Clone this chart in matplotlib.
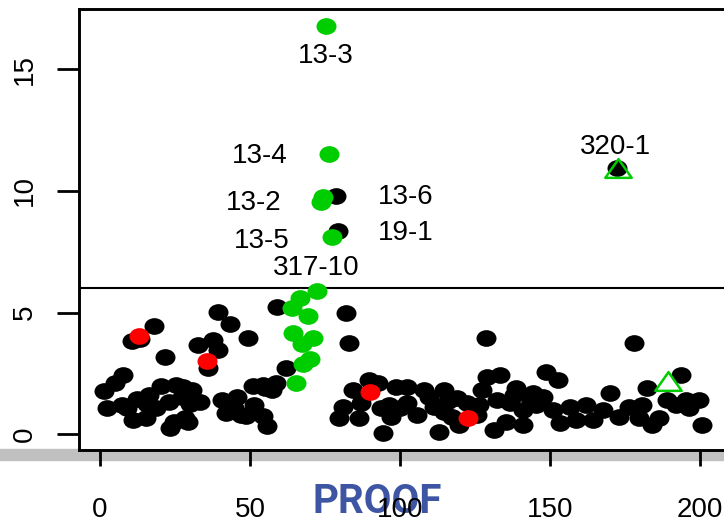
"""Scatter of sample values with labelled outliers (R-style base plot)."""

import matplotlib

matplotlib.use("Agg")
import matplotlib.pyplot as plt
from matplotlib.path import Path
from matplotlib.patches import Rectangle
from matplotlib.transforms import Affine2D

# ---- data ----------------------------------------------------------------
black_x = [
    1.2, 2.3, 5.1, 7.8, 7.4, 8.9, 11.0, 12.3, 15.6, 15.4, 16.3, 18.8, 20.4,
    23.0, 24.5, 23.3, 25.2, 27.3, 27.5, 28.3, 29.4, 30.6, 30.0, 33.3,
    18.0, 10.6, 13.3, 21.5, 32.8, 37.8, 39.2, 36.1, 39.4, 43.3, 49.4, 58.9,
    40.6, 42.0, 44.5, 45.8, 46.9, 48.5, 51.1, 51.2, 54.4, 54.4, 55.6, 55.0,
    57.2, 58.6, 62.0,
    82.0, 83.1, 84.2, 89.8, 92.6, 80.9, 79.8, 86.4, 87.0, 93.7, 96.4, 97.0,
    94.2, 98.7,
    102.3, 107.9, 114.6, 119.0, 100.1, 105.7, 111.2, 114.6, 112.9, 119.6,
    127.3, 129.0, 133.4, 126.2, 132.3, 131.2, 102.3, 128.8, 117.3, 125.7,
    122.3, 109.5, 116.0,
    148.8, 152.7, 138.8, 144.3, 147.7, 136.6, 141.0, 145.4, 135.4, 141.0,
    151.0, 153.2, 156.6, 158.8, 162.1, 164.3, 167.7, 169.9, 138.0, 143.5,
    178.0, 193.6, 182.4, 176.3, 173.0, 180.8, 179.7, 186.3, 184.1, 189.1,
    195.2, 199.7, 196.3, 200.8, 192.0,
    78.7, 79.4, 172.3,
]
black_y = [
    1.77, 1.08, 2.10, 2.45, 1.20, 1.09, 0.60, 1.45, 1.23, 0.67, 1.62, 1.08, 2.00,
    1.34, 0.52, 0.27, 2.02, 1.55, 1.95, 0.68, 0.50, 1.82, 1.23, 1.34,
    4.46, 3.83, 3.90, 3.18, 3.65, 3.88, 3.47, 2.72, 5.02, 4.54, 3.95, 5.22,
    1.39, 0.88, 1.10, 1.52, 0.81, 0.75, 2.00, 1.22, 2.02, 0.75, 0.36, 1.90,
    1.82, 2.10, 2.72,
    4.99, 3.76, 1.82, 2.23, 2.09, 1.13, 0.66, 0.66, 1.27, 1.07, 1.20, 0.72,
    0.04, 1.95,
    1.95, 1.82, 1.82, 1.48, 1.07, 0.79, 1.13, 0.93, 0.11, 0.38,
    1.82, 2.37, 2.44, 1.20, 1.41, 0.18, 1.27, 3.94, 0.72, 0.79,
    1.27, 1.55, 1.35,
    2.57, 2.23, 1.89, 1.68, 1.54, 1.27, 1.00, 1.20, 0.52, 0.38,
    1.00, 0.45, 1.13, 0.59, 1.20, 0.59, 1.00, 1.68, 1.60, 1.40,
    3.76, 2.44, 1.89, 1.13, 0.72, 1.20, 0.66, 0.66, 0.38, 1.41,
    1.41, 1.41, 1.07, 0.38, 1.20,
    9.79, 8.36, 10.92,
]

red_x = [13.0, 35.8, 90.1, 122.7]
red_y = [4.04, 3.01, 1.75, 0.68]

green_x = [72.2, 66.7, 63.9, 69.4, 64.4, 71.1, 67.2, 70.0, 67.8, 65.3,
           75.3, 76.3, 73.6, 74.2, 77.2]
green_y = [5.88, 5.61, 5.20, 4.86, 4.17, 3.97, 3.70, 3.08, 2.87, 2.12,
           16.78, 11.51, 9.55, 9.76, 8.09]

triangle_x = [172.6, 189.3]
triangle_y = [10.93, 2.20]

threshold = 6

label_text = ["13-3", "13-4", "13-2", "13-5", "13-6", "19-1", "317-10", "320-1"]
label_px = [75.3, 76.3, 73.6, 77.2, 78.7, 79.4, 72.2, 172.6]
label_py = [16.78, 11.51, 9.55, 8.09, 9.79, 8.36, 5.88, 10.93]
label_offset = [(0, -21.5), (-50, -1.5), (-48, -1), (-50, -2.5), (50, -0.5),
                (48.5, -1.5), (0, 16.5), (-2, 15)]

x_ticks = [0, 50, 100, 150, 200]
y_ticks = [0, 5, 10, 15]

# ---- styling ---------------------------------------------------------------
FONT = ["Liberation Sans", "DejaVu Sans"]
GREEN = "#00cd00"
ellipse = Path.unit_circle().transformed(Affine2D().scale(1.0, 0.835))
triangle = Path([(0, 0.71), (-1, -0.71), (1, -0.71), (0, 0.71)],
                [Path.MOVETO, Path.LINETO, Path.LINETO, Path.CLOSEPOLY])

plt.rcParams["font.family"] = FONT

fig = plt.figure(figsize=(7.24, 5.22), dpi=100)
ax = fig.add_axes([79 / 724, (522 - 450.3) / 522, 648 / 724, (450.3 - 9) / 522])

ax.plot(black_x, black_y, linestyle="none", marker=ellipse, ms=14.4,
        color="black", mew=0, zorder=3)
ax.plot(red_x, red_y, linestyle="none", marker=ellipse, ms=14.4,
        color="red", mew=0, zorder=4)
ax.plot(green_x, green_y, linestyle="none", marker=ellipse, ms=14.4,
        color=GREEN, mew=0, zorder=4)
ax.plot(triangle_x, triangle_y, linestyle="none", marker=triangle, ms=19,
        mfc="none", mec=GREEN, mew=1.8, zorder=5)
ax.axhline(threshold, color="black", lw=1.5, zorder=2)

for text, px, py, off in zip(label_text, label_px, label_py, label_offset):
    ax.annotate(text, (px, py), xytext=off, textcoords="offset points",
                ha="center", va="center", fontsize=20, zorder=6)

ax.set_xlim(-7, 209)
ax.set_ylim(-0.657, 17.47)
ax.set_xticks(x_ticks)
ax.set_yticks(y_ticks)
ax.tick_params(axis="x", length=11.5, width=2, pad=22, labelsize=20)
ax.tick_params(axis="y", length=15.8, width=2, pad=14, labelsize=20)
for label in ax.get_yticklabels():
    label.set_rotation(90)
    label.set_va("center")
for spine in ax.spines.values():
    spine.set_linewidth(2.1)

# grey strip and watermark behind the axis annotations
fig.patches.append(Rectangle((0, (522 - 460) / 522), 1, 11.3 / 522,
                             transform=fig.transFigure, color="#c0c0c0",
                             zorder=-2))
fig.text(377 / 724, (522 - 502) / 522, "PROOF", ha="center", va="center",
         fontsize=29, fontweight="bold", family=["Roboto", "DejaVu Sans"],
         color="#3d55a3", zorder=-1)

fig.savefig("out.png", dpi=100)
